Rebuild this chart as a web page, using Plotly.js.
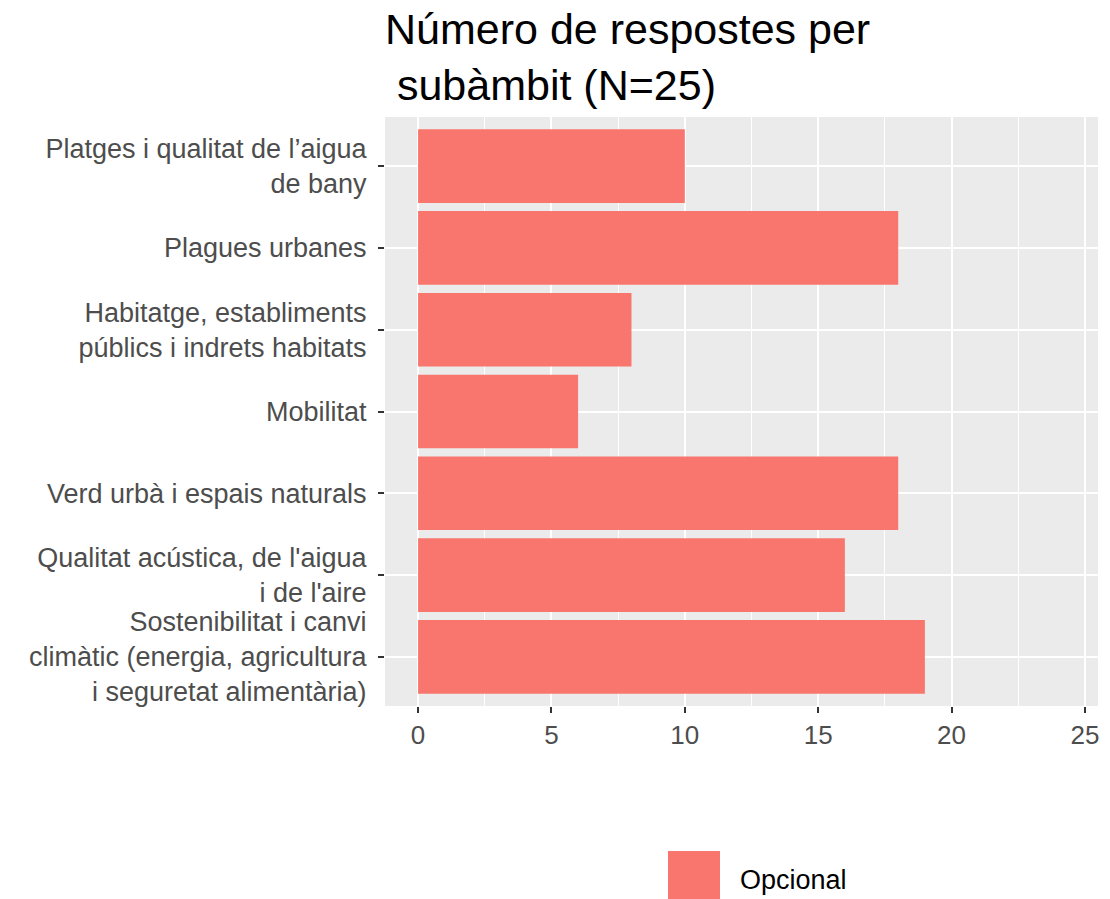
<!DOCTYPE html>
<html>
<head>
<meta charset="utf-8">
<script src="https://cdn.plot.ly/plotly-3.0.1.min.js"></script>
<style>html,body{margin:0;padding:0;background:#fff;}#chart{width:1110px;height:899px;}</style>
</head>
<body>
<div id="chart"></div>
<script>
// Data (top to bottom order)
const categories = [
  "Platges i qualitat de l’aigua<br>de bany",
  "Plagues urbanes",
  "Habitatge, establiments<br>públics i indrets habitats",
  "Mobilitat",
  "Verd urbà i espais naturals",
  "Qualitat acústica, de l'aigua<br>i de l'aire",
  "Sostenibilitat i canvi<br>climàtic (energia, agricultura<br>i seguretat alimentària)"
];
const values = [10, 18, 8, 6, 18, 16, 19];
const seriesName = "Opcional";
const titleText = "Número de respostes per<br> subàmbit (N=25)";

const barColor = "#F8766D";
const font = "Liberation Sans, Arial, sans-serif";

const trace = {
  type: "bar",
  orientation: "h",
  x: values,
  y: categories,
  name: seriesName,
  marker: {color: barColor},
  showlegend: false,
  hoverinfo: "x+y"
};

const W = 1110, H = 899;
const L = 385, R = 12, T = 117, B = 193;
const pw = W - L - R, ph = H - T - B;
const px = v => (v - L) / pw;
const py = v => (H - B - v) / ph;

const layout = {
  width: W, height: H,
  margin: {l: L, r: R, t: T, b: B, pad: 0},
  paper_bgcolor: "#ffffff",
  plot_bgcolor: "#EBEBEB",
  font: {family: font, color: "#4D4D4D"},
  bargap: 0.1,
  title: {
    text: titleText,
    font: {family: font, size: 43, color: "#000000"},
    xref: "paper", x: 0, xanchor: "left",
    yref: "container", y: 1 - 44 / H, yanchor: "bottom"
  },
  xaxis: {
    range: [-1.24, 25.49],
    dtick: 5, tick0: 0,
    showgrid: true, gridcolor: "#ffffff", gridwidth: 2,
    minor: {dtick: 2.5, tick0: 0, showgrid: true, gridcolor: "#ffffff", gridwidth: 1},
    zeroline: false, showline: false,
    ticks: "outside", ticklen: 6, tickwidth: 2, tickcolor: "#333333",
    tickfont: {family: font, size: 26, color: "#4D4D4D"}
  },
  yaxis: {
    type: "category",
    categoryorder: "array", categoryarray: categories,
    range: [6.6, -0.6],
    showgrid: true, gridcolor: "#ffffff", gridwidth: 2,
    zeroline: false, showline: false,
    ticks: "outside", ticklen: 6, tickwidth: 2, tickcolor: "#333333",
    ticklabelstandoff: 6,
    tickfont: {family: font, size: 27, color: "#4D4D4D"}
  },
  shapes: [{
    type: "rect", xref: "paper", yref: "paper",
    x0: px(668), x1: px(720), y0: py(851), y1: py(903),
    fillcolor: barColor, line: {width: 0}
  }],
  annotations: [{
    text: seriesName, xref: "paper", yref: "paper",
    x: px(738), y: py(880), xanchor: "left", yanchor: "middle",
    showarrow: false,
    font: {family: font, size: 27, color: "#000000"}
  }]
};

Plotly.newPlot("chart", [trace], layout, {displayModeBar: false, staticPlot: true});
</script>
</body>
</html>
